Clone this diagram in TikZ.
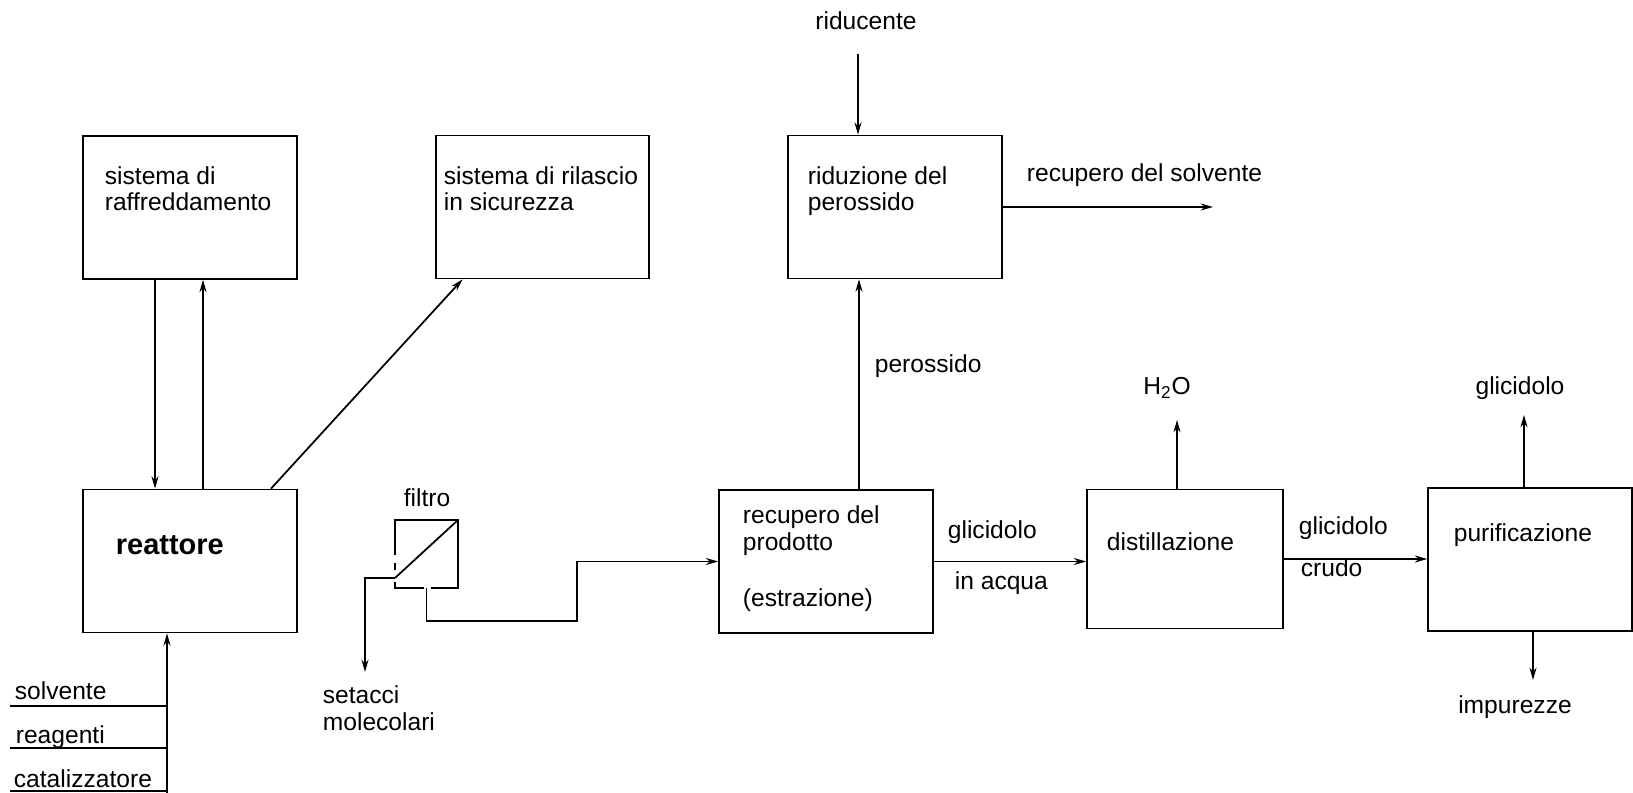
\documentclass[tikz,border=0pt]{standalone}
\usepackage{fontspec}
\setmainfont{Liberation Sans}
\usetikzlibrary{arrows.meta,calc}

\tikzset{
  block/.style={draw,inner sep=0pt,minimum width=4.28cm,minimum height=2.86cm},
  lbl/.style={inner sep=0pt,font=\fontsize{14}{16}\selectfont},
}

\begin{document}
\begin{tikzpicture}[x=0.02cm,y=-0.02cm,line width=1pt,>={Stealth[length=7pt,width=4pt]}]
  \useasboundingbox (0,0) rectangle (1633,793);

  % blocks
  \node[block] (cool) at (190,207.5) {};
  \node[block,minimum width=4.26cm] (safe) at (542.5,207) {};
  \node[block] (riduz) at (895,207) {};
  \node[block] (reactor) at (190,561) {};
  \node[block] (recup) at (826,561.5) {};
  \node[block,minimum width=3.92cm,minimum height=2.78cm] (dist) at (1185,559) {};
  \node[block,minimum width=4.08cm] (purif) at (1530,559.5) {};
  \node[inner sep=0pt,minimum width=1.22cm,minimum height=1.32cm] (filt) at (426.5,554) {};

  % texts in the blocks
  \node[lbl,anchor=base west] (cooltxt) at (104,184.5) {sistema di};
  \node[lbl,anchor=base west] (cooltxtb) at (104,211) {raffreddamento};
  \node[lbl,anchor=base west] (safetxt) at (443,184.5) {sistema di rilascio};
  \node[lbl,anchor=base west] (safetxtb) at (443,211) {in sicurezza};
  \node[lbl,anchor=base west] (riduztxt) at (807,185) {riduzione del};
  \node[lbl,anchor=base west] (riduztxtb) at (807,211) {perossido};
  \node[lbl,anchor=base west,font=\fontsize{16.5}{18}\selectfont\bfseries] (reacttxt) at (115,555) {reattore};
  \node[lbl,anchor=base west] (recuptxt) at (742,524) {recupero del};
  \node[lbl,anchor=base west] (recuptxtb) at (742,551) {prodotto};
  \node[lbl,anchor=base west] (recuptxtc) at (742,606) {(estrazione)};
  \node[lbl,anchor=base west] (disttxt) at (1106,550.5) {distillazione};
  \node[lbl,anchor=base west] (puriftxt) at (1453,541.5) {purificazione};

  % stream labels
  \node[lbl,anchor=base] (riducente) at (866,30) {riducente};
  \node[lbl,anchor=base west] (solvrec) at (1026,182) {recupero del solvente};
  \node[lbl,anchor=base west] (perox) at (874,373) {perossido};
  \node[lbl,anchor=base] (filtro) at (427,507) {filtro};
  \node[lbl,anchor=base west] (sieves) at (322,703) {setacci};
  \node[lbl,anchor=base west] (sievesb) at (322,730) {molecolari};
  \node[lbl,anchor=base west] (glicaq) at (947,539) {glicidolo};
  \node[lbl,anchor=base west] (glicaqb) at (954,589) {in acqua};
  \node[lbl,anchor=base west] (gliccr) at (1298,535) {glicidolo};
  \node[lbl,anchor=base west] (gliccrb) at (1300,577) {crudo};
  \node[lbl,anchor=base] (water) at (1167,395) {H\textsubscript{2}O};
  \node[lbl,anchor=base] (glicout) at (1520,395) {glicidolo};
  \node[lbl,anchor=base] (impur) at (1515,713) {impurezze};
  \node[lbl,anchor=base west] (solv) at (14,699) {solvente};
  \node[lbl,anchor=base west] (reag) at (15,743) {reagenti};
  \node[lbl,anchor=base west] (catal) at (13,787) {catalizzatore};

  % free ends
  \coordinate (redin) at (858,54);
  \coordinate (solvout) at (1213,207);
  \coordinate (peroxup) at ($(recup.north)+(33,0)$);
  \coordinate (memb) at ($(filt.south west)+(0,-10)$);
  \coordinate (sieveout) at (365,672);
  \coordinate (bend) at (577,621);
  \coordinate (waterout) at (1177,420);
  \coordinate (glicup) at (1524,415);
  \coordinate (impdown) at (1533,680);
  \coordinate (feed) at (167,793);
  \coordinate (insolv) at (10,706);
  \coordinate (inreag) at (10,748);
  \coordinate (incatal) at (10,791);

  % filter
  \draw ($(filt.north west)+(0,35)$) -- (filt.north west) -- (filt.north east)
    -- (filt.south east) -- ($(filt.south)+(4,0)$);
  \draw ($(filt.south)+(-3,0)$) -- (filt.south west) -- ++(0,-6);
  \draw ($(filt.west)+(0,9)$) -- ++(0,7);
  \draw (memb) -- (filt.north east);

  % connectors
  \draw[->] ($(cool.south)+(-35,0)$) -- ($(reactor.north)+(-35,0)$);
  \draw[->] ($(reactor.north)+(13,0)$) -- ($(cool.south)+(13,0)$);
  \draw[->] ($(reactor.north)+(81,0)$) -- ($(safe.south)+(-80,0)$);
  \draw[->] (redin) -- (redin |- riduz.north);
  \draw[->] (riduz.east) -- (solvout);
  \draw[->] (peroxup) -- (peroxup |- riduz.south);
  \draw ($(reactor.east)+(0,-2)$) -- ($(reactor.east)+(0,-2)$ -| filt.west);
  \draw[->] (memb) -| (sieveout);
  \draw[->] (filt.south) |- (bend) |- (recup.west);
  \draw[->] (recup.east) -- (recup.east -| dist.west);
  \draw[->] (waterout |- dist.north) -- (waterout);
  \draw[->] (dist.east) -- (dist.east -| purif.west);
  \draw[->] (glicup |- purif.north) -- (glicup);
  \draw[->] (impdown |- purif.south) -- (impdown);
  \draw[->] (feed) -- (feed |- reactor.south);
  \draw (insolv) -- (insolv -| feed);
  \draw (inreag) -- (inreag -| feed);
  \draw (incatal) -- (incatal -| feed);
\end{tikzpicture}
\end{document}
